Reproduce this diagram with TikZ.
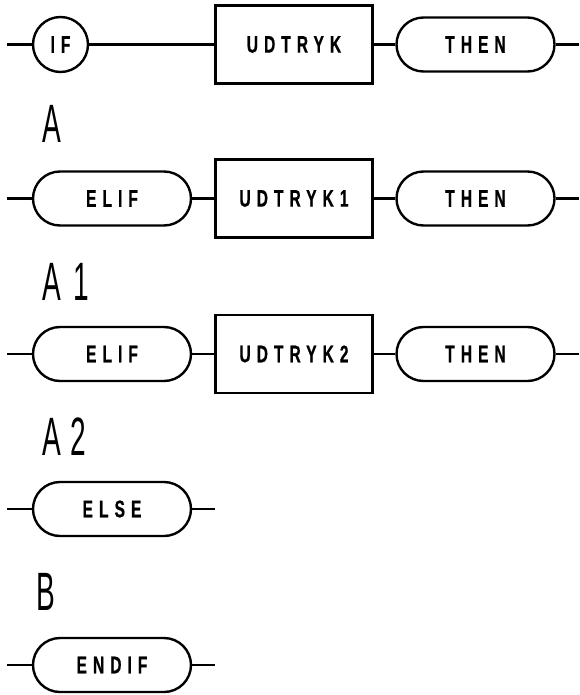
\documentclass[tikz,border=0pt]{standalone}
\usepackage{fontspec}
\newfontfamily\plotfont[FakeStretch=0.65,LetterSpace=25,FakeBold=0.6]{Liberation Sans Bold}
\newfontfamily\labelfont[FakeStretch=0.52]{Liberation Sans}
\begin{document}
\begin{tikzpicture}[x=1pt,y=-1pt,
  kw/.style={draw,line width=2.4pt,font=\plotfont\fontsize{24}{24}\selectfont,inner sep=0pt},
  pill/.style={kw,rectangle,rounded corners=27pt,minimum width=158pt,minimum height=54pt},
  exprbox/.style={kw,rectangle,minimum width=157pt,minimum height=78pt},
  ifcircle/.style={kw,circle,minimum size=55pt},
  lbl/.style={font=\labelfont\fontsize{54}{54}\selectfont,inner sep=0pt,anchor=base west},
  conn/.style={line width=2.4pt}]
\useasboundingbox (0,0) rectangle (579,695);
% row 1
\coordinate (s0) at (7,44.5);
\node[ifcircle] (if) at (60.5,44.5) {IF};
\node[exprbox] (u0) at (294,44.5) {UDTRYK};
\node[pill] (t0) at (475.5,44.5) {THEN};
\coordinate (e0) at (579,44.5);
\draw[conn] (s0) -- (if);
\draw[conn] (if) -- (u0);
\draw[conn] (u0) -- (t0);
\draw[conn] (t0) -- (e0);
% label A
\node[lbl] (la) at (42,143) {A};
% row 2
\coordinate (s1) at (7,198.5);
\node[pill] (el1) at (112,198.5) {ELIF};
\node[exprbox] (u1) at (294,198.5) {UDTRYK1};
\node[pill] (t1) at (475.5,198.5) {THEN};
\coordinate (e1) at (579,198.5);
\draw[conn] (s1) -- (el1);
\draw[conn] (el1) -- (u1);
\draw[conn] (u1) -- (t1);
\draw[conn] (t1) -- (e1);
% label A1
\node[lbl] (la1) at (42,300) {A \kern5pt 1};
% row 3
\coordinate (s2) at (7,354);
\node[pill] (el2) at (112,354) {ELIF};
\node[exprbox] (u2) at (294,354) {UDTRYK2};
\node[pill] (t2) at (475.5,354) {THEN};
\coordinate (e2) at (579,354);
\draw[conn] (s2) -- (el2);
\draw[conn] (el2) -- (u2);
\draw[conn] (u2) -- (t2);
\draw[conn] (t2) -- (e2);
% label A2
\node[lbl] (la2) at (42,455) {A \kern2pt 2};
% row 4
\coordinate (s3) at (7,509);
\node[pill] (els) at (112,509) {ELSE};
\coordinate (e3) at (215,509);
\draw[conn] (s3) -- (els);
\draw[conn] (els) -- (e3);
% label B
\node[lbl] (lb) at (36,610) {B};
% row 5
\coordinate (s4) at (7,665);
\node[pill] (eif) at (112,665) {ENDIF};
\coordinate (e4) at (215,665);
\draw[conn] (s4) -- (eif);
\draw[conn] (eif) -- (e4);
\end{tikzpicture}
\end{document}
